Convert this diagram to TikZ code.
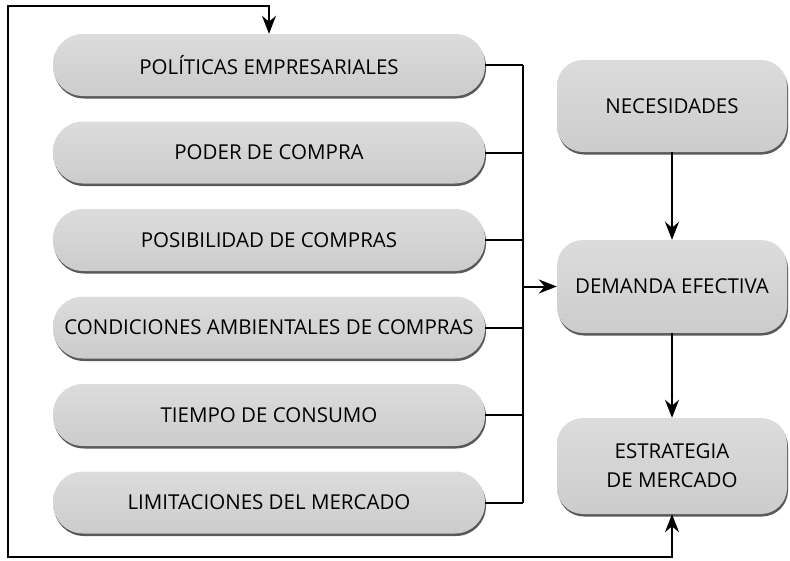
\documentclass[tikz,border=0pt]{standalone}
\usepackage{fontspec}
\setmainfont{Open Sans}
\usetikzlibrary{shadows,arrows.meta,calc}
\definecolor{boxtop}{RGB}{220,220,220}
\definecolor{boxbot}{RGB}{204,204,204}
\tikzset{
  pill/.style={rounded corners=30pt, top color=boxtop, bottom color=boxbot, draw=none,
    minimum width=432pt, minimum height=62pt, inner sep=0pt, font=\fontsize{20.5}{24}\selectfont,
    drop shadow={shadow xshift=1pt, shadow yshift=-2.5pt, fill=black!65, opacity=1}},
  rbox/.style={rounded corners=26pt, top color=boxtop, bottom color=boxbot, draw=none,
    minimum width=230pt, inner sep=0pt, align=center, font=\fontsize{20.5}{29}\selectfont,
    drop shadow={shadow xshift=1pt, shadow yshift=-2.5pt, fill=black!65, opacity=1}},
  conn/.style={line width=2pt, black},
  arr/.style={conn, -{Stealth[length=18pt,width=14pt]}},
  arrboth/.style={conn, {Stealth[length=18pt,width=14pt]}-{Stealth[length=18pt,width=14pt]}},
}
\begin{document}
\begin{tikzpicture}[x=1pt,y=-1pt]
\useasboundingbox (0,0) rectangle (790,560);
\node[pill] (pol) at (269,65) {POLÍTICAS EMPRESARIALES};
\node[pill] (pod) at (269,152.5) {PODER DE COMPRA};
\node[pill] (pos) at (269,240) {POSIBILIDAD DE COMPRAS};
\node[pill] (con) at (269,327.5) {CONDICIONES AMBIENTALES DE COMPRAS};
\node[pill] (tie) at (269,415) {TIEMPO DE CONSUMO};
\node[pill] (lim) at (269,502.5) {LIMITACIONES DEL MERCADO};
\node[rbox, minimum height=92pt] (nec) at (672,106) {NECESIDADES};
\node[rbox, minimum height=93pt] (dem) at (672,286.5) {DEMANDA EFECTIVA};
\node[rbox, minimum height=96pt] (est) at (672,466) {ESTRATEGIA\\DE MERCADO};
\coordinate (bt) at (523,65);
\coordinate (bb) at (523,502.5);
\coordinate (bm) at (523,286.5);
\coordinate (lt) at (8,6);
\coordinate (lb) at (8,557);
\foreach \n in {pol,pod,pos,con,tie,lim}
  \draw[conn] (\n.east) -- (\n.east -| bt);
\draw[conn] (bt) -- (bb);
\draw[arr] (bm) -- (dem.west);
\draw[arr] (nec.south) -- (dem.north);
\draw[arr] (dem.south) -- (est.north);
\draw[arrboth] (pol.north) |- (lt) -- (lb) -| (est.south);
\end{tikzpicture}
\end{document}
